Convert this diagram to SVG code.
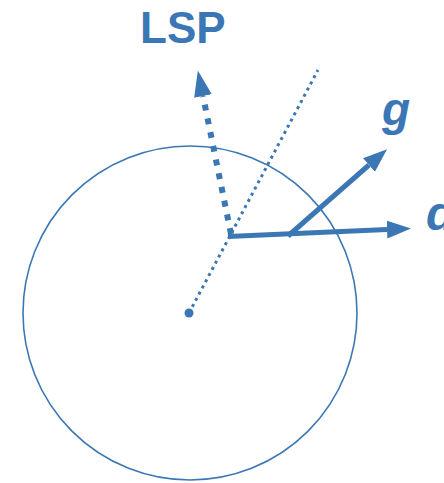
<svg xmlns="http://www.w3.org/2000/svg" width="444" height="483" viewBox="0 0 444 483">
<style>
.blue{fill:#3b77b4}
.lbl{font-family:"Liberation Sans",Arial,sans-serif;font-weight:bold;fill:#3b77b4}
.thick{stroke:#3b77b4;stroke-width:5;fill:none}
</style>
<defs>
<marker id="ah" viewBox="0 -10 24 20" refX="0" refY="0" markerWidth="24" markerHeight="20" markerUnits="userSpaceOnUse" orient="auto">
<path d="M0,-9 L24,0 L0,9 z" class="blue"/>
</marker>
<marker id="ah2" viewBox="0 -10 26 20" refX="0" refY="0" markerWidth="26" markerHeight="20" markerUnits="userSpaceOnUse" orient="auto">
<path d="M0,-9 L26,0 L0,9 z" class="blue"/>
</marker>
</defs>
<g id="circle">
<circle cx="190" cy="313" r="167" fill="none" stroke="#3b77b4" stroke-width="1.6"/>
<circle cx="189" cy="313" r="4.5" class="blue"/>
</g>
<g id="connectors">
<line x1="189" y1="313" x2="318" y2="70" stroke="#3b77b4" stroke-width="3" stroke-dasharray="3 4"/>
<line x1="231" y1="234" x2="203" y2="96" stroke="#3b77b4" stroke-width="6" stroke-dasharray="6 8" marker-end="url(#ah2)"/>
<line x1="228" y1="236.5" x2="387" y2="229.5" class="thick" marker-end="url(#ah)"/>
<line x1="288" y1="236" x2="369" y2="165" class="thick" marker-end="url(#ah)"/>
</g>
<g id="label-LSP"><text x="140" y="43" font-size="44" class="lbl">LSP</text></g>
<g id="label-g"><text x="382" y="125" font-size="46" font-style="italic" class="lbl">g</text></g>
<g id="label-d"><text x="426" y="230" font-size="48" font-style="italic" class="lbl">d</text></g>
</svg>
